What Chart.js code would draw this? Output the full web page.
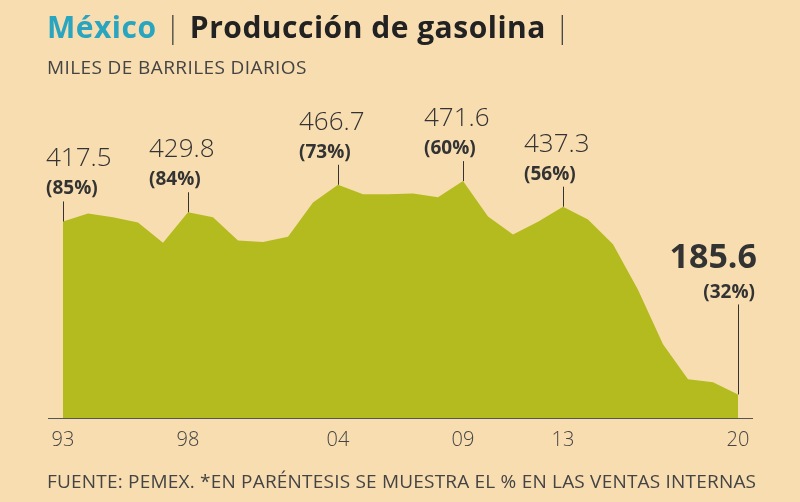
<!DOCTYPE html>
<html><head><meta charset="utf-8">
<script src="https://cdn.jsdelivr.net/npm/chart.js@4"></script>
<style>
body{margin:0;background:#f8ddb0;font-family:"Open Sans",sans-serif;}
#wrap{position:relative;width:800px;height:502px;}
#title{position:absolute;left:47px;top:6px;font-size:30px;font-weight:700;color:#222;white-space:nowrap;letter-spacing:0.5px;}
#title .c{color:#2aa5c0}
#title .s{font-weight:300;color:#444}
#sub{position:absolute;left:47px;top:54px;font-size:19px;color:#444;letter-spacing:0.4px;}
#foot{position:absolute;left:47px;top:468px;font-size:19px;color:#444;white-space:nowrap;letter-spacing:0.2px;}
canvas{position:absolute;left:0;top:0;}
</style></head><body>
<div id="wrap">
<canvas id="c" width="800" height="502"></canvas>
<div id="title"><span class="c">México</span> <span class="s">|</span> Producción de gasolina <span class="s">|</span></div>
<div id="sub">MILES DE BARRILES DIARIOS</div>
<div id="foot">FUENTE: PEMEX. *EN PARÉNTESIS SE MUESTRA EL % EN LAS VENTAS INTERNAS</div>
</div>
<script>
const years = ["93","94","95","96","97","98","99","00","01","02","03","04","05","06","07","08","09","10","11","12","13","14","15","16","17","18","19","20"];
const production = [417.5,428,423,416,389,429.8,423,392,390,397,443,466.7,454,454,455,450,471.6,424,400,417,437.3,420,387,326,253,206,202,185.6];
const tickYears = ["93","98","04","09","13","20"];
const callouts = [
  {year:"93", value:"417.5", pct:"(85%)"},
  {year:"98", value:"429.8", pct:"(84%)"},
  {year:"04", value:"466.7", pct:"(73%)"},
  {year:"09", value:"471.6", pct:"(60%)"},
  {year:"13", value:"437.3", pct:"(56%)"},
  {year:"20", value:"185.6", pct:"(32%)"}
];

const overlay = {
  id: "overlay",
  afterDatasetsDraw(chart) {
    const ctx = chart.ctx, x = chart.scales.x, y = chart.scales.y;
    const base = chart.chartArea.bottom;
    ctx.save();
    ctx.strokeStyle = "#555"; ctx.lineWidth = 1.2;
    ctx.beginPath(); ctx.moveTo(chart.chartArea.left - 15, base + 0.5); ctx.lineTo(chart.chartArea.right + 15, base + 0.5); ctx.stroke();
    ctx.fillStyle = "#444"; ctx.font = "300 20px 'Open Sans'"; ctx.textAlign = "center"; ctx.textBaseline = "top";
    tickYears.forEach(t => ctx.fillText(t, x.getPixelForValue(years.indexOf(t)), base + 12));
    callouts.forEach(c => {
      const i = years.indexOf(c.year);
      const px = x.getPixelForValue(i), py = y.getPixelForValue(production[i]);
      const last = c.year === "20";
      ctx.strokeStyle = "#333"; ctx.lineWidth = 1;
      ctx.beginPath(); ctx.moveTo(px + 0.5, py); ctx.lineTo(px + 0.5, last ? py - 90 : py - 20); ctx.stroke();
      ctx.fillStyle = "#333"; ctx.textBaseline = "alphabetic";
      if (last) {
        ctx.textAlign = "right";
        ctx.font = "700 34px 'Open Sans'"; ctx.fillText(c.value, px + 19, py - 126);
        ctx.font = "700 19px 'Open Sans'"; ctx.fillText(c.pct, px + 17, py - 96);
      } else {
        ctx.textAlign = "left";
        const lx = c.year === "93" ? px - 17 : px - 39;
        ctx.font = "300 26px 'Open Sans'"; ctx.fillText(c.value, lx, py - 55);
        ctx.font = "700 19px 'Open Sans'"; ctx.fillText(c.pct, lx, py - 27);
      }
    });
    ctx.restore();
  }
};

new Chart(document.getElementById("c"), {
  type: "line",
  data: { labels: years, datasets: [{ data: production, fill: "start", backgroundColor: "#b3bb1e", borderWidth: 0, pointRadius: 0, tension: 0 }] },
  options: {
    responsive: false, animation: false,
    layout: { padding: { left: 63, right: 62, top: 145, bottom: 84 } },
    plugins: { legend: { display: false }, tooltip: { enabled: false } },
    scales: {
      x: { display: false, offset: false },
      y: { display: false, min: 154, max: 520 }
    }
  },
  plugins: [overlay]
});
</script>
</body></html>
